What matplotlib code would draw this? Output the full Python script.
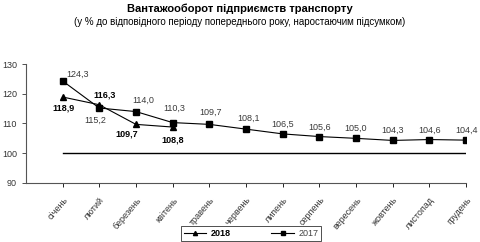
import matplotlib
matplotlib.use("Agg")
import matplotlib.pyplot as plt

plt.rcParams['font.family'] = ['Liberation Sans', 'DejaVu Sans']

months = ["січень", "лютий", "березень", "квітень", "травень", "червень",
          "липень", "серпень", "вересень", "жовтень", "листопад", "грудень"]
v2018 = [118.9, 116.3, 109.7, 108.8]
v2017 = [124.3, 115.2, 114.0, 110.3, 109.7, 108.1, 106.5, 105.6, 105.0, 104.3, 104.6, 104.4]
base = [100, 100]

# label offsets in points (dx, dy)
off2017 = [(11, 5), (-3, -9), (5, 8), (1, 10), (1, 9), (2, 8), (0, 7), (0, 7), (0, 7), (0, 7), (0, 7), (0, 7)]
off2018 = [(1, -8), (4, 7), (-7, -7), (0, -9)]

def fmt(v):
    return f"{v:.1f}".replace(".", ",")

fig = plt.figure(figsize=(4.8, 2.42), dpi=100)
ax = fig.add_axes([0.054, 0.244, 0.917, 0.4915])

x17 = list(range(len(v2017)))
x18 = list(range(len(v2018)))
ax.plot([0, len(months) - 1], base, color="black", lw=1)
l17, = ax.plot(x17, v2017, color="black", lw=0.8, marker="s", ms=4.5)
l18, = ax.plot(x18, v2018, color="black", lw=0.8, marker="^", ms=4)

for x, v, (dx, dy) in zip(x17, v2017, off2017):
    ax.annotate(fmt(v), (x, v), xytext=(dx, dy), textcoords="offset points",
                ha="center", va="center", fontsize=6.5, color="#3a3a3a")
for x, v, (dx, dy) in zip(x18, v2018, off2018):
    ax.annotate(fmt(v), (x, v), xytext=(dx, dy), textcoords="offset points",
                ha="center", va="center", fontsize=6.5, fontweight="bold")

ax.set_xlim(-1, len(months) - 1)
ax.set_ylim(90, 130)
ax.set_yticks([90, 100, 110, 120, 130])
ax.set_xticks(range(len(months)))
ax.set_xticklabels(months, rotation=50, ha="right", rotation_mode="anchor", fontsize=6.5, color="#333333")
ax.tick_params(axis="y", labelsize=6.5, length=3, width=0.6, colors="#333333")
ax.tick_params(axis="x", length=3, width=0.6, pad=6)
for s in ["top", "right"]:
    ax.spines[s].set_visible(False)
for s in ["left", "bottom"]:
    ax.spines[s].set_color("#555555")
    ax.spines[s].set_linewidth(0.8)

leg = fig.legend([l18, l17], ["2018", "2017"], loc="center", bbox_to_anchor=(0.523, 0.035),
                 ncol=2, fontsize=6.5, frameon=True, fancybox=False, edgecolor="black",
                 handlelength=2.5, columnspacing=4.5, borderpad=0.3, handletextpad=0.5,
                 markerscale=0.75, borderaxespad=0.2)
leg.get_frame().set_linewidth(0.6)
leg.get_texts()[0].set_fontweight("bold")
leg.get_texts()[1].set_color("#444444")

fig.text(0.5, 0.965, "Вантажооборот підприємств транспорту", ha="center", va="center",
         fontsize=8, fontweight="bold")
fig.text(0.5, 0.91, "(у % до відповідного періоду попереднього року, наростаючим підсумком)",
         ha="center", va="center", fontsize=7)

fig.savefig("out.png", dpi=100)
